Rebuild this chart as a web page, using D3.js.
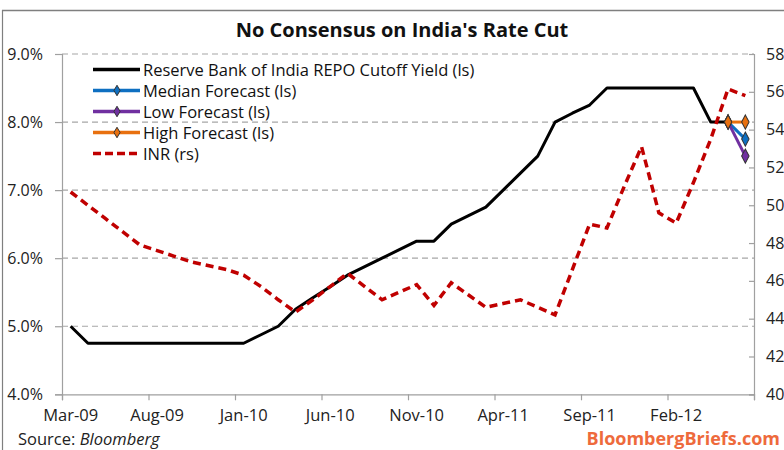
<!DOCTYPE html>
<html>
<head>
<meta charset="utf-8">
<script src="https://cdn.jsdelivr.net/npm/d3@7"></script>
<style>
  body { margin: 0; background: #fff; }
  svg text { font-family: "Open Sans", Lato, sans-serif; }
</style>
</head>
<body>
<svg id="chart" width="784" height="450"></svg>
<script>
// monthly categories, Mar-09 .. Jun-12
const months = ["Mar-09","Apr-09","May-09","Jun-09","Jul-09","Aug-09","Sep-09","Oct-09","Nov-09","Dec-09",
  "Jan-10","Feb-10","Mar-10","Apr-10","May-10","Jun-10","Jul-10","Aug-10","Sep-10","Oct-10",
  "Nov-10","Dec-10","Jan-11","Feb-11","Mar-11","Apr-11","May-11","Jun-11","Jul-11","Aug-11",
  "Sep-11","Oct-11","Nov-11","Dec-11","Jan-12","Feb-12","Mar-12","Apr-12","May-12","Jun-12"];
const tickLabels = ["Mar-09","Aug-09","Jan-10","Jun-10","Nov-10","Apr-11","Sep-11","Feb-12"];

// repo cutoff yield (%) Mar-09 .. May-12
const repo = [5.0, 4.75, 4.75, 4.75, 4.75, 4.75, 4.75, 4.75, 4.75, 4.75,
  4.75, 4.875, 5.0, 5.25, 5.42, 5.58, 5.75, 5.875, 6.0, 6.125,
  6.25, 6.25, 6.5, 6.625, 6.75, 7.0, 7.25, 7.5, 8.0, 8.13,
  8.25, 8.5, 8.5, 8.5, 8.5, 8.5, 8.5, 8.0, 8.0];

// forecasts for the next meeting
const forecastMonths = ["May-12", "Jun-12"];
const medianForecast = [8.0, 7.75];
const lowForecast = [8.0, 7.5];
const highForecast = [8.0, 8.0];

// rupee per dollar, Mar-09 .. Jun-12
const inr = [50.7, 50.0, 49.3, 48.6, 47.9, 47.6, 47.3, 47.0, 46.8, 46.6,
  46.3, 45.7, 45.0, 44.35, 45.0, 45.7, 46.4, 45.7, 45.0, 45.4,
  45.8, 44.7, 45.9, 45.25, 44.6, 44.8, 45.0, 44.6, 44.2, 46.6,
  49.0, 48.8, 51.0, 53.1, 49.6, 49.05, 51.2, 53.5, 56.15, 55.8];

const leftTicks = [4, 5, 6, 7, 8, 9];
const rightTicks = [40, 42, 44, 46, 48, 50, 52, 54, 56, 58];

const svg = d3.select("#chart");
const plotLeft = 62, plotRight = 754, plotTop = 54, plotBottom = 394.3;

const x = d3.scaleBand().domain(months).range([plotLeft, plotRight]).padding(0);
const cx = m => x(m) + x.bandwidth() / 2;
const yL = d3.scaleLinear().domain([4, 9]).range([plotBottom, plotTop]);
const yR = d3.scaleLinear().domain([40, 58]).range([plotBottom, plotTop]);

svg.append("rect").attr("width", 784).attr("height", 450).attr("fill", "#fff");

// outer frame
svg.append("line").attr("x1", 2.5).attr("x2", 2.5).attr("y1", 10).attr("y2", 450)
  .attr("stroke", "#7f7f7f").attr("stroke-width", 1.2);
svg.append("line").attr("x1", 2).attr("x2", 784).attr("y1", 10.5).attr("y2", 10.5)
  .attr("stroke", "#7f7f7f").attr("stroke-width", 1.5);

// gridlines
svg.append("g").selectAll("line")
  .data(leftTicks.slice(1))
  .enter().append("line")
    .attr("x1", plotLeft).attr("x2", plotRight)
    .attr("y1", d => yL(d)).attr("y2", d => yL(d))
    .attr("stroke", "#a6a6a6").attr("stroke-width", 1.2)
    .attr("stroke-dasharray", "6,4");

// left axis
const axL = svg.append("g").attr("transform", `translate(${plotLeft},0)`)
  .call(d3.axisLeft(yL).tickValues(leftTicks).tickSize(7).tickPadding(12)
    .tickFormat(d => d.toFixed(1) + "%"));
axL.selectAll("text").attr("font-size", 16).attr("fill", "#222");

// right axis
const axR = svg.append("g").attr("transform", `translate(${plotRight},0)`)
  .call(d3.axisRight(yR).tickValues(rightTicks).tickSize(-5).tickPadding(12));
axR.selectAll("text").attr("font-size", 16).attr("fill", "#222");

// bottom axis
const tickIdx = [0, 5, 10, 15, 20, 25, 30, 35, 40];
const axB = svg.append("g").attr("transform", `translate(0,${plotBottom})`)
  .call(d3.axisBottom(d3.scaleLinear().domain([0, 40]).range([plotLeft, plotRight]))
    .tickValues(tickIdx).tickSize(6).tickFormat(""));
svg.append("g").selectAll("text")
  .data(tickLabels)
  .enter().append("text")
    .attr("x", d => cx(d)).attr("y", 421)
    .attr("text-anchor", "middle").attr("font-size", 16.5).attr("fill", "#222")
    .text(d => d);

[axL, axR, axB].forEach(a => {
  a.select(".domain").attr("stroke", "#a0a0a0").attr("stroke-width", 1.2);
  a.selectAll(".tick line").attr("stroke", "#a0a0a0").attr("stroke-width", 1.2);
});

// series
const lineL = d3.line().defined(d => d[1] != null).x(d => cx(d[0])).y(d => yL(d[1]));
const lineR = d3.line().x(d => cx(d[0])).y(d => yR(d[1]));

svg.append("path")
  .datum(repo.map((v, i) => [months[i], v]))
  .attr("d", lineL).attr("fill", "none")
  .attr("stroke", "#000").attr("stroke-width", 3).attr("stroke-linejoin", "round");

const forecasts = [
  { name: "Median Forecast (ls)", values: medianForecast, color: "#0e6fc1" },
  { name: "Low Forecast (ls)", values: lowForecast, color: "#7030a0" },
  { name: "High Forecast (ls)", values: highForecast, color: "#e8700f" }
];
const diamond = d3.symbol().type(d3.symbolDiamond).size(48);

forecasts.forEach(f => {
  const pts = f.values.map((v, i) => [forecastMonths[i], v]);
  svg.append("path").datum(pts).attr("d", lineL).attr("fill", "none")
    .attr("stroke", f.color).attr("stroke-width", 3);
  svg.append("g").selectAll("path").data(pts).enter().append("path")
    .attr("d", diamond)
    .attr("transform", d => `translate(${cx(d[0])},${yL(d[1])}) scale(1,1.1)`)
    .attr("fill", f.color).attr("stroke", "#333").attr("stroke-width", 1);
});

svg.append("path")
  .datum(inr.map((v, i) => [months[i], v]))
  .attr("d", lineR).attr("fill", "none")
  .attr("stroke", "#c00000").attr("stroke-width", 3.5)
  .attr("stroke-dasharray", "8,5");

// legend
const legend = [
  { name: "Reserve Bank of India REPO Cutoff Yield (ls)", color: "#000", dash: null, marker: false },
  { name: "Median Forecast (ls)", color: "#0e6fc1", dash: null, marker: true },
  { name: "Low Forecast (ls)", color: "#7030a0", dash: null, marker: true },
  { name: "High Forecast (ls)", color: "#e8700f", dash: null, marker: true },
  { name: "INR (rs)", color: "#c00000", dash: "8,4", marker: false }
];
const lg = svg.append("g").selectAll("g").data(legend).enter().append("g")
  .attr("transform", (d, i) => `translate(93,${69.5 + i * 21})`);
lg.append("line").attr("x1", 0).attr("x2", 47)
  .attr("stroke", d => d.color).attr("stroke-width", 3.5)
  .attr("stroke-dasharray", d => d.dash);
lg.filter(d => d.marker).append("path")
  .attr("d", d3.symbol().type(d3.symbolDiamond).size(32))
  .attr("transform", "translate(24,0)")
  .attr("fill", d => d.color).attr("stroke", "#333").attr("stroke-width", 1);
lg.append("text").attr("x", 50).attr("y", 6)
  .attr("font-size", 16.5).attr("fill", "#111").text(d => d.name);

// title and footer
svg.append("text").attr("x", 402).attr("y", 37).attr("text-anchor", "middle")
  .attr("font-size", 20).attr("font-weight", "bold").attr("fill", "#111")
  .text("No Consensus on India's Rate Cut");

const src = svg.append("text").attr("x", 18).attr("y", 445).attr("font-size", 16.5).attr("fill", "#222");
src.append("tspan").text("Source: ");
src.append("tspan").attr("font-style", "italic").text("Bloomberg");

svg.append("text").attr("x", 780).attr("y", 445).attr("text-anchor", "end")
  .attr("font-size", 18).attr("font-weight", "bold").attr("fill", "#ee6a3c")
  .text("BloombergBriefs.com");
</script>
</body>
</html>
